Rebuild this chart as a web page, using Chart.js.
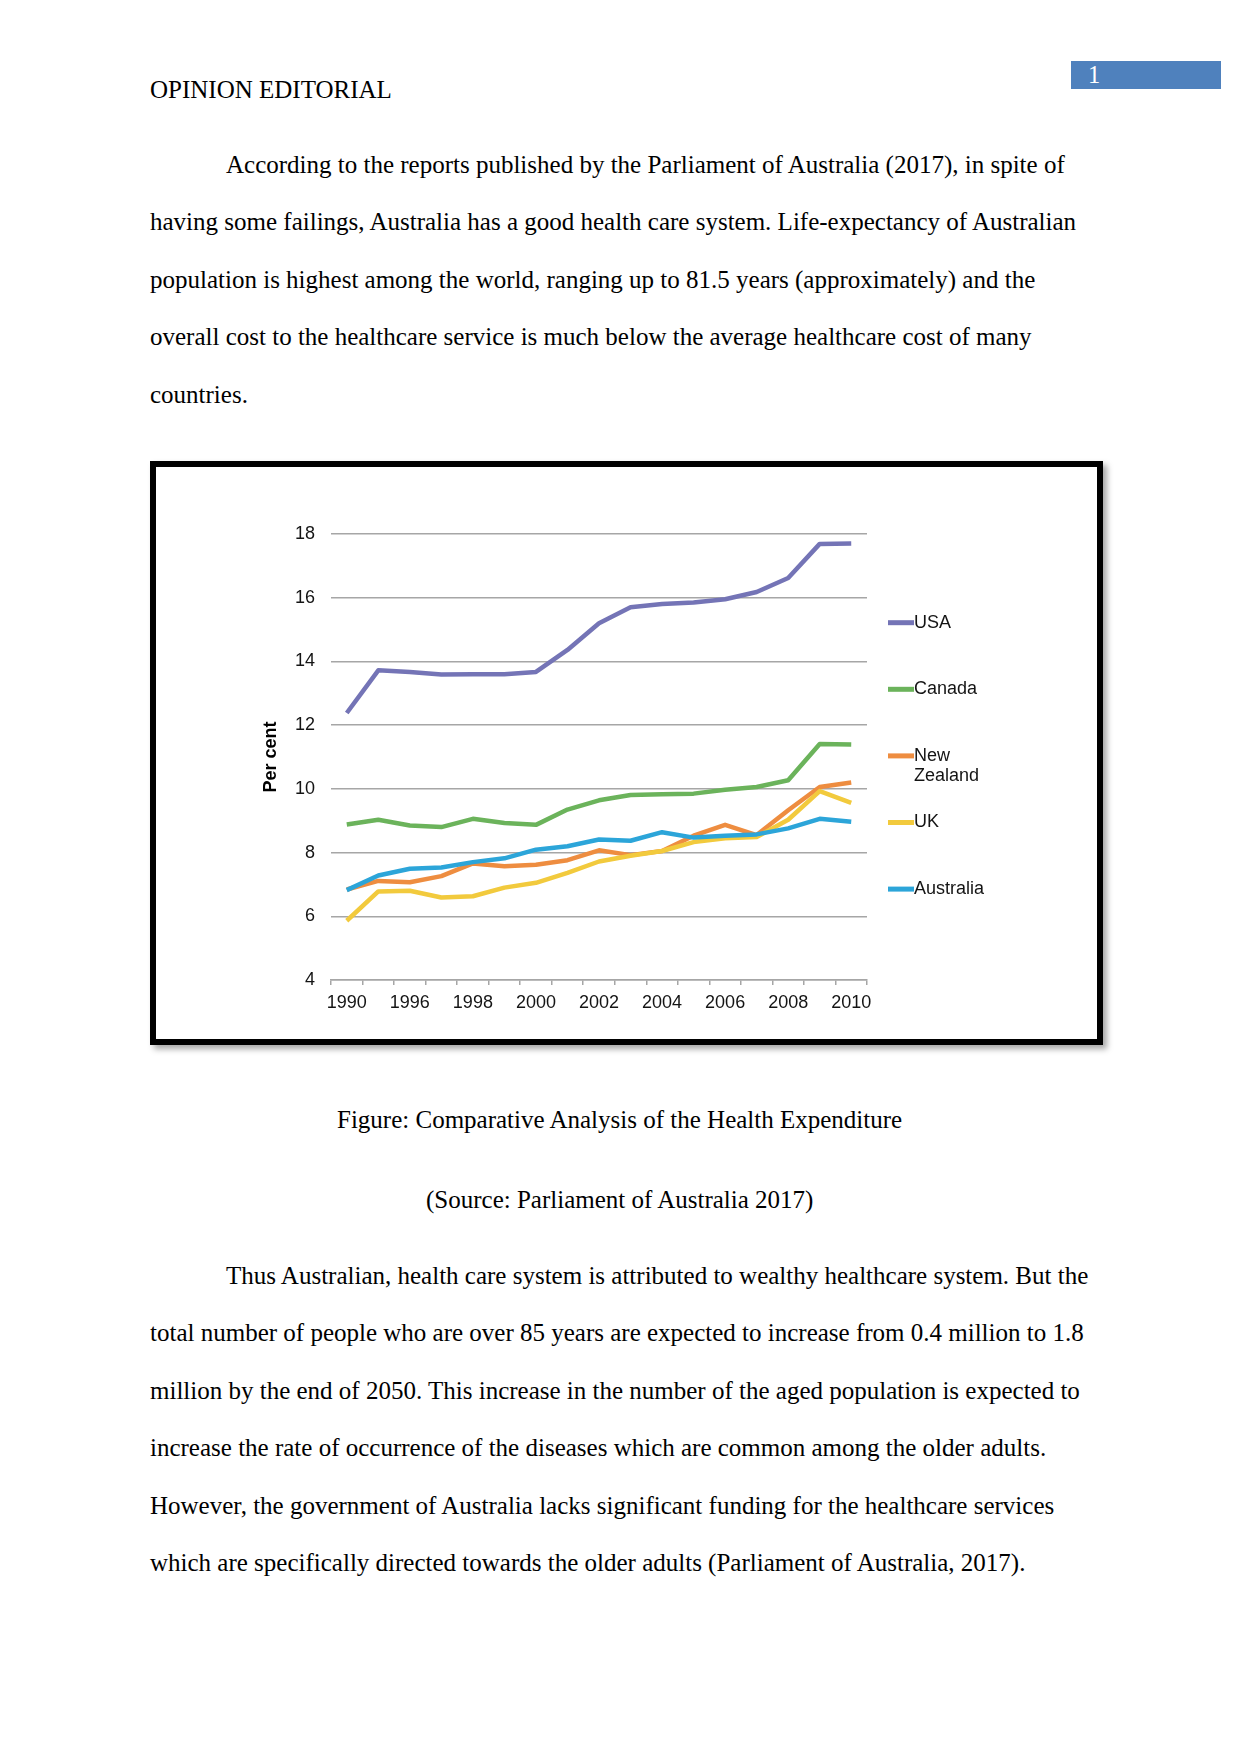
<!DOCTYPE html>
<html>
<head>
<meta charset="utf-8">
<script src="https://cdn.jsdelivr.net/npm/chart.js@4.4.1/dist/chart.umd.min.js"></script>
<style>
  html, body { margin: 0; padding: 0; background: #fff; }
  body { width: 1241px; height: 1754px; position: relative; overflow: hidden; }
  .t { position: absolute; font-family: "Liberation Serif", "Times New Roman", serif; font-size: 25px; line-height: 28px; color: #000; white-space: nowrap; }
  #pgbox { position: absolute; left: 1071px; top: 61px; width: 150px; height: 28px; background: #4f81bd; }
  #pgnum { position: absolute; left: 17px; top: 0px; color: #fff; font-family: "Liberation Serif", serif; font-size: 24.5px; line-height: 28px; }
  #frame { position: absolute; left: 150px; top: 461px; width: 953px; height: 584px; box-sizing: border-box; border: 6px solid #000; background: #fff; box-shadow: 4px 4px 6px rgba(0,0,0,0.35); }
  #chart { display: block; }
</style>
</head>
<body>
<div id="pgbox"><div id="pgnum">1</div></div>
<div class="t" style="left:150px; top:76px;">OPINION EDITORIAL</div>

<div class="t" style="left:226px; top:151px;">According to the reports published by the Parliament of Australia (2017), in spite of</div>
<div class="t" style="left:150px; top:208.4px;">having some failings, Australia has a good health care system. Life-expectancy of Australian</div>
<div class="t" style="left:150px; top:265.8px;">population is highest among the world, ranging up to 81.5 years (approximately) and the</div>
<div class="t" style="left:150px; top:323.2px;">overall cost to the healthcare service is much below the average healthcare cost of many</div>
<div class="t" style="left:150px; top:380.6px;">countries.</div>

<div id="frame"><canvas id="chart" width="941" height="572"></canvas></div>

<div class="t" style="left:337px; top:1106px;">Figure: Comparative Analysis of the Health Expenditure</div>
<div class="t" style="left:426px; top:1186px;">(Source: Parliament of Australia 2017)</div>

<div class="t" style="left:226px; top:1262.2px;">Thus Australian, health care system is attributed to wealthy healthcare system. But the</div>
<div class="t" style="left:150px; top:1319.4px;">total number of people who are over 85 years are expected to increase from 0.4 million to 1.8</div>
<div class="t" style="left:150px; top:1376.8px;">million by the end of 2050. This increase in the number of the aged population is expected to</div>
<div class="t" style="left:150px; top:1434.2px;">increase the rate of occurrence of the diseases which are common among the older adults.</div>
<div class="t" style="left:150px; top:1491.6px;">However, the government of Australia lacks significant funding for the healthcare services</div>
<div class="t" style="left:150px; top:1549px;">which are specifically directed towards the older adults (Parliament of Australia, 2017).</div>

<script>
// ---- Data ----
const years = ['1990','1995','1996','1997','1998','1999','2000','2001','2002','2003','2004','2005','2006','2007','2008','2009','2010'];
const usa       = [12.38,13.72,13.67,13.59,13.60,13.60,13.67,14.36,15.20,15.70,15.80,15.85,15.95,16.18,16.62,17.69,17.70];
const canada    = [8.88,9.03,8.85,8.80,9.06,8.93,8.87,9.35,9.64,9.81,9.83,9.85,9.97,10.06,10.27,11.41,11.39];
const newZealand= [6.84,7.11,7.07,7.26,7.66,7.57,7.62,7.76,8.07,7.92,8.05,8.53,8.87,8.55,9.33,10.06,10.20];
const uk        = [5.86,6.78,6.80,6.59,6.63,6.90,7.05,7.36,7.72,7.90,8.05,8.33,8.45,8.49,9.03,9.93,9.56];
const australia = [6.82,7.28,7.49,7.53,7.70,7.82,8.09,8.20,8.41,8.37,8.64,8.47,8.53,8.57,8.76,9.06,8.97];
const seriesNames = [['USA'], ['Canada'], ['New', 'Zealand'], ['UK'], ['Australia']];
const yTicks = [4, 6, 8, 10, 12, 14, 16, 18];
const yAxisTitle = 'Per cent';

const colors = ['#7474b6', '#6bb35b', '#ee8d40', '#f2ca3d', '#2ca5d9'];
const seriesData = [usa, canada, newZealand, uk, australia];

const FONT = '"Liberation Sans", Arial, sans-serif';

const legendPlugin = {
  id: 'sideLegend',
  afterDraw(chart) {
    const ctx = chart.ctx;
    const area = chart.chartArea;
    const x0 = area.right + 21;
    const y0 = area.top + 88.7;
    const step = 66.6;
    ctx.save();
    chart.data.datasets.forEach((ds, i) => {
      const y = y0 + step * i;
      ctx.strokeStyle = ds.borderColor;
      ctx.lineWidth = 5;
      ctx.lineCap = 'butt';
      ctx.beginPath();
      ctx.moveTo(x0, y);
      ctx.lineTo(x0 + 26, y);
      ctx.stroke();
      ctx.fillStyle = '#141414';
      ctx.font = '18px ' + FONT;
      ctx.textBaseline = 'middle';
      ctx.textAlign = 'left';
      const lines = seriesNames[i];
      lines.forEach((ln, j) => ctx.fillText(ln, x0 + 26, y + j * 20.5));
    });
    ctx.restore();
  }
};

new Chart(document.getElementById('chart'), {
  type: 'line',
  data: {
    labels: years,
    datasets: seriesData.map((d, i) => ({
      label: seriesNames[i].join(' '),
      data: d,
      borderColor: colors[i],
      backgroundColor: colors[i],
      borderWidth: 4.5,
      pointRadius: 0,
      tension: 0,
      fill: false,
      borderJoinStyle: 'round',
      order: 5 - i
    }))
  },
  plugins: [legendPlugin],
  options: {
    responsive: false,
    animation: false,
    devicePixelRatio: 1,
    layout: { padding: { left: 104, right: 230, top: 67, bottom: 0 } },
    plugins: { legend: { display: false }, tooltip: { enabled: false }, title: { display: false } },
    scales: {
      x: {
        type: 'category',
        offset: true,
        grid: { display: true, offset: true, drawOnChartArea: false, drawTicks: true, tickLength: 5, color: '#a6a6a6', lineWidth: 1.5 },
        border: { display: true, color: '#a6a6a6', width: 1.5 },
        ticks: {
          autoSkip: false, maxRotation: 0, minRotation: 0, padding: 7,
          color: '#141414', font: { family: FONT, size: 18 },
          callback: function (val, idx) { return idx % 2 === 0 ? this.getLabelForValue(val) : ''; }
        },
        afterFit(scale) { scale.height = 59; }
      },
      y: {
        min: 4, max: 18,
        afterBuildTicks(scale) { scale.ticks = yTicks.map(v => ({ value: v })); },
        grid: { color: '#a6a6a6', lineWidth: 1.5, drawTicks: false },
        border: { display: false },
        ticks: { padding: 16, color: '#141414', font: { family: FONT, size: 18 } },
        title: { display: true, text: yAxisTitle, color: '#000', padding: 0, font: { family: FONT, size: 18, weight: 'bold' } },
        afterFit(scale) { scale.width = 71; }
      }
    }
  }
});
</script>
</body>
</html>
